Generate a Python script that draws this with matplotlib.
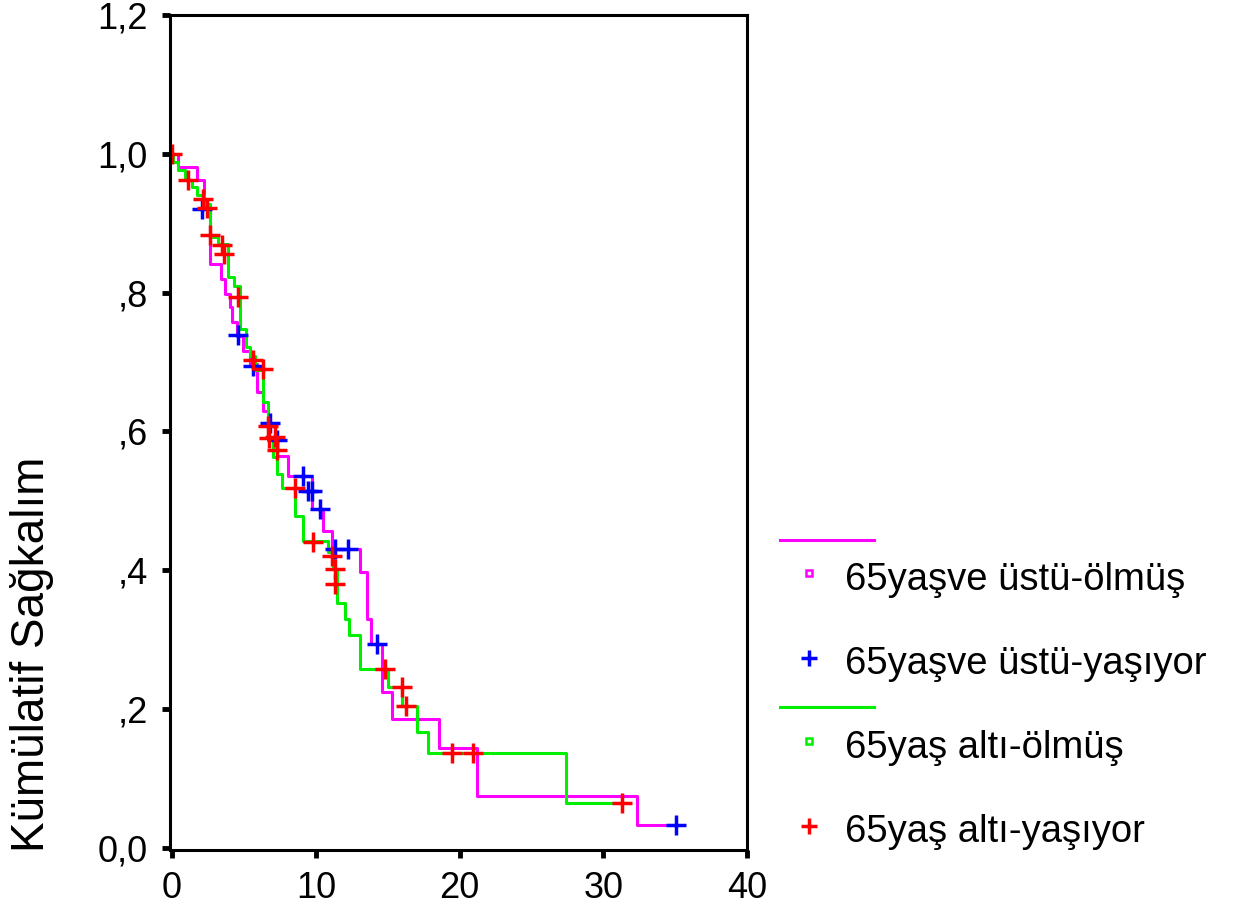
import matplotlib
matplotlib.use("Agg")
import matplotlib.pyplot as plt
from matplotlib.lines import Line2D

plt.rcParams['font.family'] = ['Liberation Sans', 'DejaVu Sans']

# 65 yas ve ustu (magenta) - step times and survival after each step
old_t = [0.0, 0.42, 1.74, 2.22, 2.64, 3.40, 3.68, 4.03, 4.17, 4.51, 4.93, 5.42, 5.90,
         6.32, 6.67, 7.29, 8.06, 9.72, 10.49, 11.11, 13.06, 13.54, 13.82, 14.58, 15.28,
         18.54, 21.18, 32.36, 35.07]
old_s = [1.0, 0.981, 0.962, 0.921, 0.841, 0.820, 0.798, 0.779, 0.758, 0.737, 0.716, 0.697,
         0.657, 0.629, 0.589, 0.564, 0.535, 0.488, 0.456, 0.430, 0.397, 0.330, 0.293, 0.224,
         0.186, 0.144, 0.074, 0.033, 0.033]
old_cens_t = [2.08, 4.58, 5.63, 6.80, 7.29, 9.10, 9.44, 9.72, 10.28, 11.32, 12.22, 14.24, 35.07]
old_cens_s = [0.921, 0.739, 0.694, 0.612, 0.587, 0.535, 0.514, 0.514, 0.488, 0.430, 0.430,
              0.293, 0.033]

# 65 yas alti (green)
young_t = [0.0, 0.07, 0.42, 0.90, 1.39, 1.74, 2.22, 2.64, 3.19, 3.89, 4.31, 4.72, 5.14,
           5.42, 5.76, 6.32, 6.67, 7.01, 7.29, 7.64, 8.54, 9.10, 10.83, 11.18, 11.46,
           12.01, 12.29, 13.06, 15.00, 15.97, 17.01, 17.78, 27.43, 31.32]
young_s = [1.0, 0.988, 0.977, 0.962, 0.952, 0.941, 0.928, 0.880, 0.870, 0.823, 0.810,
           0.747, 0.721, 0.708, 0.688, 0.642, 0.589, 0.563, 0.538, 0.519, 0.478, 0.442,
           0.426, 0.401, 0.352, 0.330, 0.306, 0.258, 0.231, 0.205, 0.167, 0.136, 0.065,
           0.065]
young_cens_t = [0.0, 1.11, 2.15, 2.43, 2.64, 3.47, 3.61, 4.58, 5.63, 6.32, 6.67, 6.74,
                7.15, 7.29, 8.54, 9.79, 11.11, 11.32, 11.32, 14.79, 15.97, 16.25, 19.44,
                20.97, 31.32]
young_cens_s = [1.0, 0.962, 0.935, 0.922, 0.883, 0.869, 0.856, 0.794, 0.703, 0.690, 0.608,
                0.590, 0.592, 0.573, 0.518, 0.440, 0.420, 0.401, 0.380, 0.258, 0.231, 0.205,
                0.136, 0.136, 0.065]

labels = ['65yaşve üstü-ölmüş', '65yaşve üstü-yaşıyor', '65yaş altı-ölmüş', '65yaş altı-yaşıyor']

fig = plt.figure(figsize=(12.45, 9.07), dpi=100)
ax = fig.add_axes([0.1365, 0.063, 0.4635, 0.9205])

ax.plot(old_t, old_s, drawstyle='steps-post', color='#ff00ff', lw=2.2)
ax.plot(young_t, young_s, drawstyle='steps-post', color='#00ee00', lw=2.2)
ax.plot(old_cens_t, old_cens_s, ls='none', marker='+', color='#0000ff', ms=14, mew=2.5)
ax.plot(young_cens_t, young_cens_s, ls='none', marker='+', color='#ff0000', ms=14, mew=2.5)

ax.set_xlim(-0.15, 40)
ax.set_ylim(-0.003, 1.2)
ax.set_xticks([0, 10, 20, 30, 40])
ax.set_yticks([0.0, 0.2, 0.4, 0.6, 0.8, 1.0, 1.2])
ax.set_yticklabels(['0,0', ',2', ',4', ',6', ',8', '1,0', '1,2'])
ax.tick_params(axis='both', direction='out', length=6, width=3.5, labelsize=26, color='black')
ax.tick_params(axis='y', pad=10)
ax.tick_params(axis='x', pad=9)
for sp in ax.spines.values():
    sp.set_linewidth(2.2)

# legend drawn by hand in figure pixels
W, H = 1245.0, 907.0
def fx(px):
    return px / W
def fy(py):
    return 1 - py / H

fig.text(fx(10), fy(852), 'Kümülatif Sağkalım', fontsize=33, rotation=90,
         ha='left', va='bottom')

fig.add_artist(Line2D([fx(780), fx(874)], [fy(540), fy(540)], color='#ff00ff', lw=2.2))
fig.add_artist(Line2D([fx(780), fx(874)], [fy(707), fy(707)], color='#00ee00', lw=2.2))
fig.add_artist(Line2D([fx(809)], [fy(573)], marker='s', ms=4.5, mfc='white', mec='#ff00ff', mew=1.8))
fig.add_artist(Line2D([fx(809)], [fy(658)], marker='+', ms=11, color='#0000ff', mew=2.5))
fig.add_artist(Line2D([fx(809)], [fy(741)], marker='s', ms=4.5, mfc='white', mec='#00ee00', mew=1.8))
fig.add_artist(Line2D([fx(809)], [fy(826)], marker='+', ms=11, color='#ff0000', mew=2.5))
for lab, py in zip(labels, [580, 664, 748, 832]):
    fig.text(fx(845), fy(py), lab, fontsize=27.5, va='center', ha='left')

fig.savefig('out.png', dpi=100)
